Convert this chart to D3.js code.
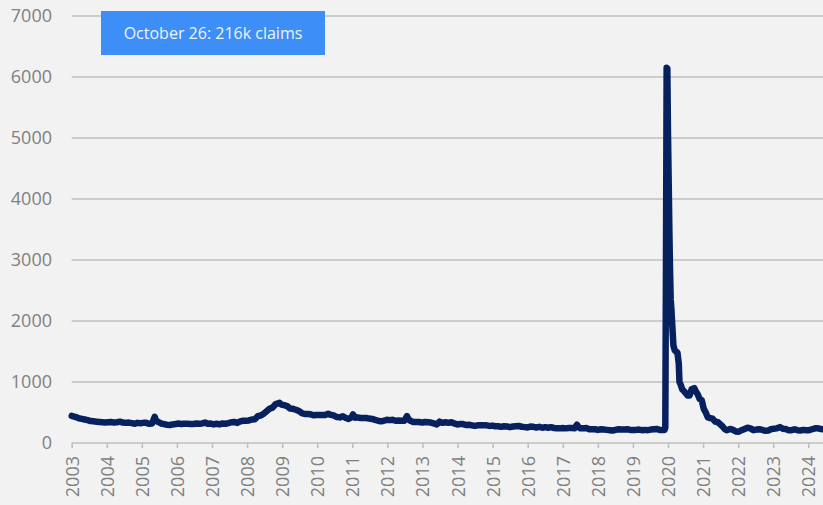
<!DOCTYPE html>
<html lang="en">
<head>
<meta charset="UTF-8">
<title>Initial jobless claims</title>
<style>
  body { margin: 0; background: #f2f2f2; }
  svg { display: block; font-family: "Open Sans", sans-serif; }
</style>
</head>
<body>
<svg width="823" height="505"></svg>
<script src="https://d3js.org/d3.v7.min.js"></script>
<script>
// weekly initial claims (thousands) at roughly monthly steps
const dates = [
  "2003-05-03","2003-06-15","2003-07-15","2003-08-15","2003-09-15","2003-10-15","2003-11-15","2003-12-15",
  "2004-01-15","2004-02-15","2004-03-15","2004-04-15","2004-05-15","2004-06-15","2004-07-15","2004-08-15","2004-09-15","2004-10-15","2004-11-15","2004-12-15",
  "2005-01-15","2005-02-15","2005-03-15","2005-04-15","2005-05-15","2005-06-15","2005-07-15","2005-08-15","2005-09-10","2005-09-24","2005-10-15","2005-11-15","2005-12-15",
  "2006-01-15","2006-02-15","2006-03-15","2006-04-15","2006-05-15","2006-06-15","2006-07-15","2006-08-15","2006-09-15","2006-10-15","2006-11-15","2006-12-15",
  "2007-01-15","2007-02-15","2007-03-15","2007-04-15","2007-05-15","2007-06-15","2007-07-15","2007-08-15","2007-09-15","2007-10-15","2007-11-15","2007-12-15",
  "2008-01-15","2008-02-15","2008-03-15","2008-04-15","2008-05-15","2008-06-15","2008-07-15","2008-08-15","2008-09-15","2008-10-15","2008-11-15","2008-12-15",
  "2009-01-15","2009-02-15","2009-03-28","2009-04-15","2009-05-15","2009-06-15","2009-07-15","2009-08-15","2009-09-15","2009-10-15","2009-11-15","2009-12-15",
  "2010-01-15","2010-02-15","2010-03-15","2010-04-15","2010-05-15","2010-06-15","2010-07-15","2010-08-15","2010-09-15","2010-10-15","2010-11-15","2010-12-15",
  "2011-01-15","2011-02-15","2011-03-15","2011-04-15","2011-04-30","2011-05-21","2011-06-15","2011-07-15","2011-08-15","2011-09-15","2011-10-15","2011-11-15","2011-12-15",
  "2012-01-15","2012-02-15","2012-03-15","2012-04-15","2012-05-15","2012-06-15","2012-07-15","2012-08-15","2012-09-15","2012-10-15","2012-11-10","2012-11-24","2012-12-15",
  "2013-01-15","2013-02-15","2013-03-15","2013-04-15","2013-05-15","2013-06-15","2013-07-15","2013-08-15","2013-09-15","2013-10-15","2013-11-15","2013-12-15",
  "2014-01-15","2014-02-15","2014-03-15","2014-04-15","2014-05-15","2014-06-15","2014-07-15","2014-08-15","2014-09-15","2014-10-15","2014-11-15","2014-12-15",
  "2015-01-15","2015-02-15","2015-03-15","2015-04-15","2015-05-15","2015-06-15","2015-07-15","2015-08-15","2015-09-15","2015-10-15","2015-11-15","2015-12-15",
  "2016-01-15","2016-02-15","2016-03-15","2016-04-15","2016-05-15","2016-06-15","2016-07-15","2016-08-15","2016-09-15","2016-10-15","2016-11-15","2016-12-15",
  "2017-01-15","2017-02-15","2017-03-15","2017-04-15","2017-05-15","2017-06-15","2017-07-15","2017-08-15","2017-09-09","2017-09-23","2017-10-15","2017-11-15","2017-12-15",
  "2018-01-15","2018-02-15","2018-03-15","2018-04-15","2018-05-15","2018-06-15","2018-07-15","2018-08-15","2018-09-15","2018-10-15","2018-11-15","2018-12-15",
  "2019-01-15","2019-02-15","2019-03-15","2019-04-15","2019-05-15","2019-06-15","2019-07-15","2019-08-15","2019-09-15","2019-10-15","2019-11-15","2019-12-15",
  "2020-01-15","2020-02-15","2020-03-07","2020-03-14","2020-03-21","2020-03-28","2020-04-04","2020-04-11","2020-04-18","2020-04-25",
  "2020-05-02","2020-05-09","2020-05-16","2020-05-23","2020-05-30","2020-06-06","2020-06-20","2020-07-04","2020-07-18","2020-08-01",
  "2020-08-08","2020-08-22","2020-09-05","2020-09-19","2020-10-10","2020-10-31","2020-11-21","2020-12-12",
  "2021-01-09","2021-01-23","2021-02-13","2021-03-06","2021-03-27","2021-04-17","2021-05-08","2021-05-29","2021-06-19","2021-07-17","2021-08-14","2021-09-11","2021-10-09","2021-10-30","2021-11-20","2021-12-11",
  "2022-01-15","2022-02-15","2022-03-15","2022-04-15","2022-05-15","2022-06-15","2022-07-15","2022-08-15","2022-09-15","2022-10-15","2022-11-15","2022-12-15",
  "2023-01-15","2023-02-15","2023-03-15","2023-04-15","2023-05-15","2023-06-15","2023-07-15","2023-08-15","2023-09-15","2023-10-15","2023-11-15","2023-12-15",
  "2024-01-15","2024-02-15","2024-03-15","2024-04-15","2024-05-15","2024-06-15","2024-07-15","2024-08-15","2024-09-15","2024-10-12","2024-10-26"
];
const claims = [
  445,425,405,395,385,375,360,355,
  350,345,340,335,340,345,335,340,350,335,330,335,
  325,315,330,325,330,330,315,320,430,370,345,320,310,
  300,295,305,310,320,310,315,315,310,310,320,315,
  320,335,315,320,305,315,305,320,315,325,340,345,
  330,355,365,365,370,385,390,440,450,480,520,560,
  580,635,660,630,620,605,565,560,545,525,490,475,
  475,470,455,460,460,460,460,480,460,450,425,420,
  440,410,395,420,470,415,420,410,410,410,400,395,380,
  365,355,365,380,375,380,365,370,365,365,440,395,365,
  345,345,345,335,345,340,335,320,305,350,330,340,
  330,340,320,305,310,310,295,300,290,280,290,290,
  290,290,280,285,275,275,265,275,270,260,270,275,
  280,265,260,255,270,265,255,265,250,260,250,260,
  245,240,240,245,240,245,245,240,300,265,240,240,245,
  225,225,225,215,225,220,215,210,205,215,225,220,
  220,225,215,215,215,220,210,215,210,220,225,230,
  215,215,215,255,2920,6150,6140,5070,4300,3500,
  2850,2350,2200,2000,1800,1600,1520,1500,1480,1300,
  1000,950,880,860,820,780,780,880,
  900,850,800,720,700,560,500,420,410,400,350,340,300,270,230,210,
  230,215,190,185,210,230,250,240,210,220,225,215,
  200,205,225,235,240,260,235,230,210,210,225,210,
  205,215,210,210,225,240,240,230,225,255,216
];
const yTicks = [0, 1000, 2000, 3000, 4000, 5000, 6000, 7000];
const yearLabels = [2003,2004,2005,2006,2007,2008,2009,2010,2011,2012,2013,2014,
                    2015,2016,2017,2018,2019,2020,2021,2022,2023,2024];
const note = "October 26: 216k claims";

const W = 823, H = 505;
const plotLeft = 71.7, plotRight = 823;
const svg = d3.select("svg");

svg.append("rect").attr("width", W).attr("height", H).attr("fill", "#f2f2f2");

const parse = d3.timeParse("%Y-%m-%d");
const data = dates.map((d, i) => ({ date: parse(d), value: claims[i] }));
const start = data[0].date;

// category-style axis: one label every 52 weeks from the first week
const tickDates = yearLabels.map((yr, i) => d3.timeDay.offset(start, i * 364));
const x = d3.scaleTime()
  .domain([start, tickDates[tickDates.length - 1]])
  .range([plotLeft, 808.3]);
const y = d3.scaleLinear().domain([0, 7000]).range([443, 16]);

// gridlines
svg.append("g")
  .selectAll("line")
  .data(yTicks)
  .join("line")
    .attr("x1", plotLeft)
    .attr("x2", plotRight)
    .attr("y1", d => y(d))
    .attr("y2", d => y(d))
    .attr("stroke", "#bfbfbf")
    .attr("stroke-width", 1.6);

// y axis labels
const yAxis = svg.append("g")
  .attr("transform", "translate(52,0)")
  .call(d3.axisLeft(y).tickValues(yTicks).tickFormat(d3.format("d")).tickSize(0).tickPadding(0));
yAxis.select(".domain").remove();
yAxis.selectAll("text")
  .attr("fill", "#808080")
  .style("font-size", "18px")
  .style("font-family", "'Open Sans', sans-serif");

// x axis
const xAxis = svg.append("g")
  .attr("transform", "translate(0,443)")
  .call(d3.axisBottom(x)
    .tickValues(tickDates)
    .tickFormat((d, i) => yearLabels[i])
    .tickSize(5)
    .tickSizeOuter(0));
xAxis.select(".domain").remove();
xAxis.selectAll(".tick line").attr("stroke", "#bfbfbf").attr("stroke-width", 1.6);
xAxis.selectAll("text")
  .attr("fill", "#808080")
  .style("font-size", "18px")
  .style("font-family", "'Open Sans', sans-serif")
  .attr("text-anchor", "end")
  .attr("transform", "rotate(-90)")
  .attr("x", -13)
  .attr("y", 0)
  .attr("dy", "0.36em");

// claims line
const line = d3.line()
  .x(d => x(d.date))
  .y(d => y(d.value));

svg.append("path")
  .datum(data)
  .attr("d", line)
  .attr("fill", "none")
  .attr("stroke", "#06215e")
  .attr("stroke-width", 6.5)
  .attr("stroke-linejoin", "round")
  .attr("stroke-linecap", "round");

// annotation box
svg.append("rect")
  .attr("x", 101)
  .attr("y", 11)
  .attr("width", 224)
  .attr("height", 44)
  .attr("fill", "#3d8ef6");

svg.append("text")
  .attr("x", 213)
  .attr("y", 33.5)
  .attr("dy", "0.35em")
  .attr("text-anchor", "middle")
  .attr("fill", "#eef4ff")
  .style("font-size", "16px")
  .text(note);
</script>
</body>
</html>
